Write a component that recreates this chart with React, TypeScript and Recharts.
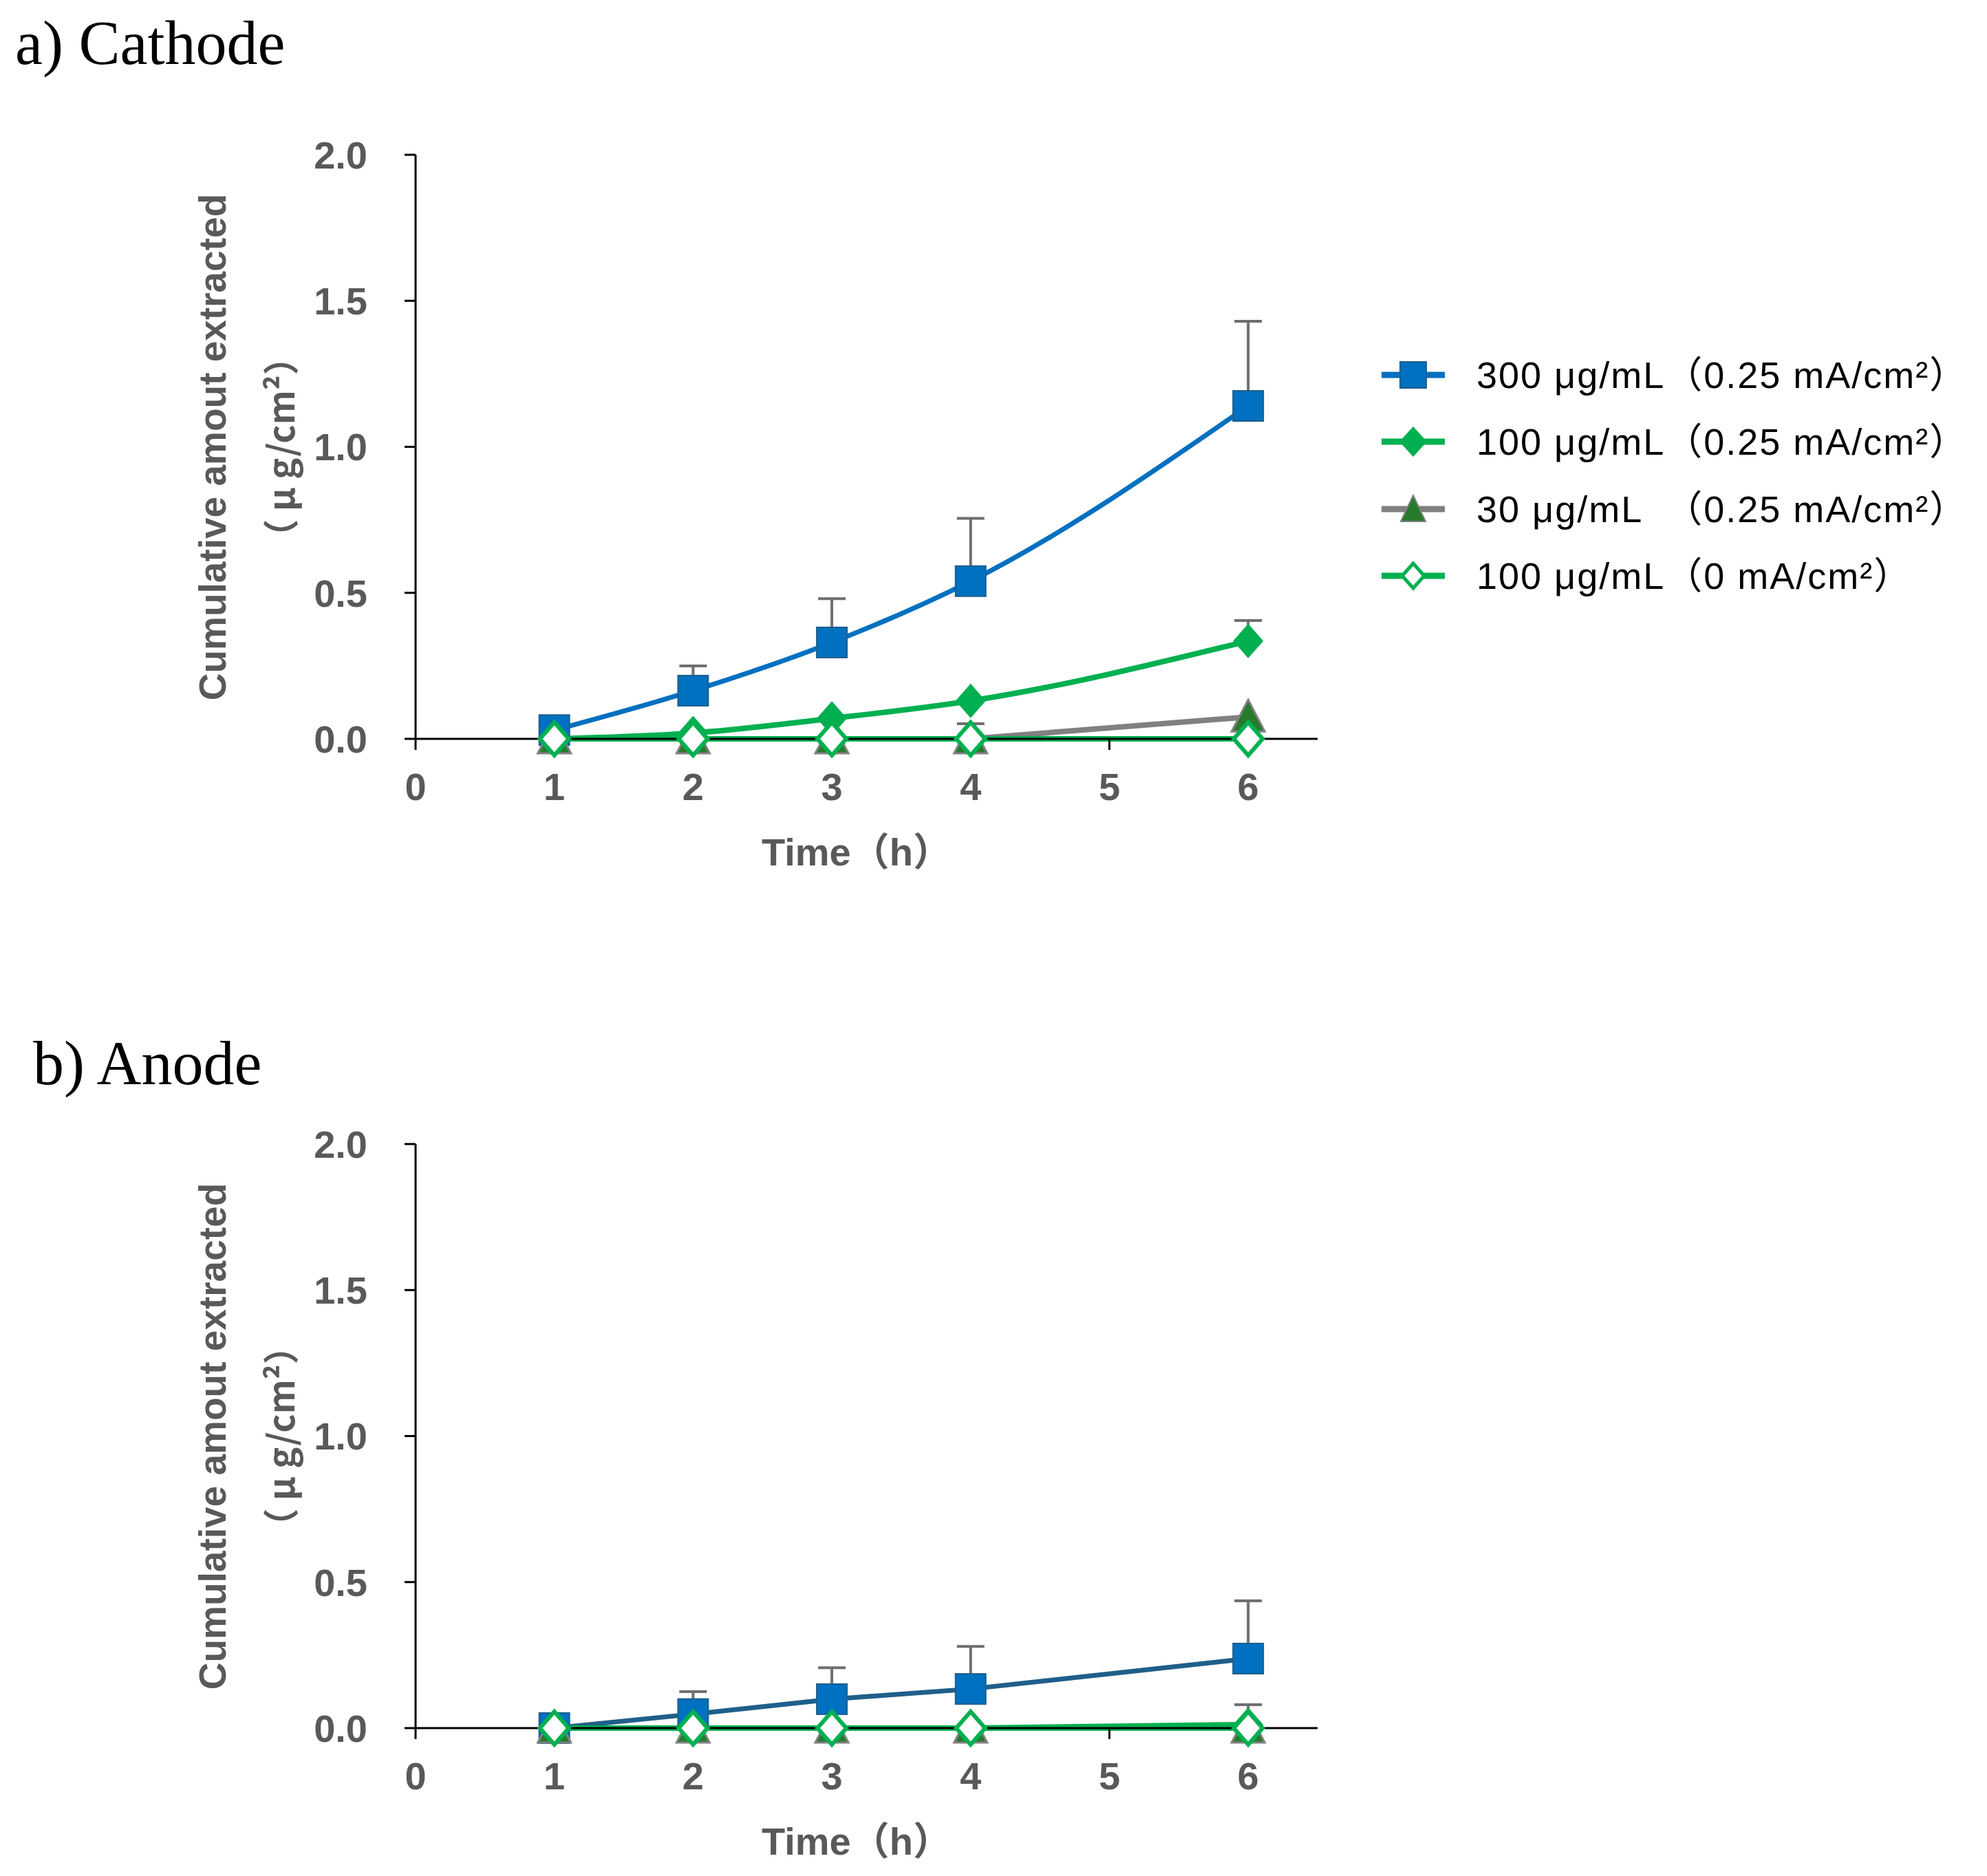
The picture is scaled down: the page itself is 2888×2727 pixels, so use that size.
import React from "react";
import { LineChart, Line, XAxis, YAxis, ErrorBar } from "recharts";

// sampling times (h)
const hours = [1, 2, 3, 4, 6];
const xTicks = [0, 1, 2, 3, 4, 5, 6];
const yTicks = [0, 0.5, 1.0, 1.5, 2.0];

// a) Cathode
const cathode300 = [0.03, 0.165, 0.33, 0.54, 1.14];
const cathode300Err = [0, 0.085, 0.15, 0.215, 0.29];
const cathode100 = [0, 0.02, 0.07, 0.13, 0.335];
const cathode100Err = [0, 0, 0, 0, 0.07];
const cathode30 = [0, 0, 0, 0, 0.075];
const cathode30Err = [0, 0, 0, 0.052, 0];
const cathode100Off = [0, 0, 0, 0, 0];

// b) Anode
const anode300 = [0, 0.048, 0.099, 0.134, 0.238];
const anode300Err = [0, 0.077, 0.108, 0.146, 0.198];
const anode100 = [0, 0, 0, 0, 0.012];
const anode100Err = [0, 0, 0, 0, 0.068];
const anode30 = [0, 0, 0, 0, 0];
const anode100Off = [0, 0, 0, 0, 0];

const seriesNames = [
  "300 μg/mL（0.25 mA/cm²）",
  "100 μg/mL（0.25 mA/cm²）",
  "30 μg/mL  （0.25 mA/cm²）",
  "100 μg/mL（0 mA/cm²）",
];

const BLUE = "#0070C0";
const GREEN = "#00B050";
const GRAY = "#808080";
const DARK_GREEN = "#277A2C";
const ERR = "#6F6F6F";
const AXIS_TEXT = "#595959";
const SANS = "'Liberation Sans', 'Noto Sans CJK JP', sans-serif";

const err = (v: number) => (v > 0 ? [0, v] : undefined);

function buildRows(a: number[], aE: number[], b: number[], bE: number[], c: number[], cE: number[], d: number[]) {
  return hours.map((h, i) => ({
    hour: h,
    s300: a[i],
    s300Err: err(aE[i]),
    s100: b[i],
    s100Err: err(bE[i]),
    s30: c[i],
    s30Err: err(cE[i]),
    s100Off: d[i],
  }));
}

const cathodeRows = buildRows(cathode300, cathode300Err, cathode100, cathode100Err, cathode30, cathode30Err, cathode100Off);
const anodeRows = buildRows(anode300, anode300Err, anode100, anode100Err, anode30, [0, 0, 0, 0, 0], anode100Off);

const Square = (p: any) => (
  <rect key={p.key} x={p.cx - 22} y={p.cy - 22} width={44} height={44} fill={BLUE} stroke="#1F5F8A" strokeWidth={2} />
);
const Diamond = (p: any) => (
  <polygon
    key={p.key}
    points={`${p.cx},${p.cy - 25} ${p.cx + 22},${p.cy} ${p.cx},${p.cy + 25} ${p.cx - 22},${p.cy}`}
    fill={GREEN}
  />
);
const Triangle = (p: any) => (
  <polygon
    key={p.key}
    points={`${p.cx},${p.cy - 25} ${p.cx + 24},${p.cy + 21} ${p.cx - 24},${p.cy + 21}`}
    fill={DARK_GREEN}
    stroke={GRAY}
    strokeWidth={3}
  />
);
const OpenDiamond = (p: any) => (
  <polygon
    key={p.key}
    points={`${p.cx},${p.cy - 24} ${p.cx + 21},${p.cy} ${p.cx},${p.cy + 24} ${p.cx - 21},${p.cy}`}
    fill="#fff"
    stroke={GREEN}
    strokeWidth={6}
  />
);

const legendIcons = [
  { line: BLUE, marker: <rect x={27} y={11} width={38} height={38} fill={BLUE} stroke="#1F5F8A" strokeWidth={2} /> },
  { line: GREEN, marker: <polygon points="46,8 66,30 46,52 26,30" fill={GREEN} /> },
  { line: GRAY, marker: <polygon points="46,10 64,48 28,48" fill={DARK_GREEN} stroke={GRAY} strokeWidth={2} /> },
  { line: GREEN, marker: <polygon points="46,12 62,30 46,48 30,30" fill="#fff" stroke={GREEN} strokeWidth={5} /> },
];

function LegendBox() {
  return (
    <div style={{ position: "absolute", left: 2000, top: 488, display: "flex", flexDirection: "column" }}>
      {seriesNames.map((name, i) => (
        <div key={name} style={{ display: "flex", alignItems: "center", height: 97.5 }}>
          <svg width={92} height={60} style={{ display: "block" }}>
            <line x1={0} x2={92} y1={30} y2={30} stroke={legendIcons[i].line} strokeWidth={9} />
            {legendIcons[i].marker}
          </svg>
          <span
            style={{
              marginLeft: 46,
              fontFamily: SANS,
              fontSize: 54,
              letterSpacing: 2,
              lineHeight: 1,
              color: "#000",
              whiteSpace: "pre",
            }}
          >
            {name}
          </span>
        </div>
      ))}
    </div>
  );
}

function Panel({
  rows,
  top,
  title,
  titleTop,
  titleLeft,
  lineType,
  blueLine,
}: {
  rows: any[];
  top: number;
  title: string;
  titleTop: number;
  titleLeft: number;
  lineType: "monotone" | "linear";
  blueLine: string;
}) {
  const tickStyle = { fill: AXIS_TEXT, fontSize: 56, fontWeight: 700, fontFamily: SANS };
  return (
    <>
      <div
        style={{
          position: "absolute",
          left: titleLeft,
          top: titleTop,
          fontFamily: "'Liberation Serif', serif",
          fontSize: 90,
          lineHeight: 1,
          color: "#000",
          whiteSpace: "nowrap",
        }}
      >
        {title}
      </div>
      <div style={{ position: "absolute", left: 0, top }}>
        <LineChart
          width={2000}
          height={1180}
          data={rows}
          margin={{ top: 217, right: 93, bottom: 14, left: 446 }}
        >
          <XAxis
            dataKey="hour"
            type="number"
            domain={[0, 6.5]}
            ticks={xTicks}
            height={100}
            axisLine={{ stroke: "#000", strokeWidth: 3 }}
            tickLine={{ stroke: "#000", strokeWidth: 3 }}
            tickSize={16}
            tickMargin={33}
            tick={tickStyle}
          />
          <YAxis
            type="number"
            domain={[0, 2]}
            ticks={yTicks}
            width={150}
            tickFormatter={(v: number) => v.toFixed(1)}
            axisLine={{ stroke: "#000", strokeWidth: 3 }}
            tickLine={{ stroke: "#000", strokeWidth: 3 }}
            tickSize={16}
            tickMargin={54}
            tick={tickStyle}
          />
          <Line
            dataKey="s300"
            type={lineType}
            stroke={blueLine}
            strokeWidth={7}
            dot={Square}
            activeDot={false}
            isAnimationActive={false}
          >
            <ErrorBar dataKey="s300Err" direction="y" width={20} stroke={ERR} strokeWidth={4} />
          </Line>
          <Line
            dataKey="s100"
            type={lineType}
            stroke={GREEN}
            strokeWidth={8}
            dot={Diamond}
            activeDot={false}
            isAnimationActive={false}
          >
            <ErrorBar dataKey="s100Err" direction="y" width={20} stroke={ERR} strokeWidth={4} />
          </Line>
          <Line
            dataKey="s30"
            type="linear"
            stroke={GRAY}
            strokeWidth={8}
            dot={Triangle}
            activeDot={false}
            isAnimationActive={false}
          >
            <ErrorBar dataKey="s30Err" direction="y" width={20} stroke={ERR} strokeWidth={4} />
          </Line>
          <Line
            dataKey="s100Off"
            type={lineType}
            stroke={GREEN}
            strokeWidth={8}
            dot={OpenDiamond}
            activeDot={false}
            isAnimationActive={false}
          />
        </LineChart>
      </div>
      {/* axis titles */}
      <div
        style={{
          position: "absolute",
          left: 301,
          top: top + 217 + 425,
          transform: "translate(-50%, -50%) rotate(-90deg)",
          fontFamily: SANS,
          fontSize: 55,
          fontWeight: 700,
          color: AXIS_TEXT,
          whiteSpace: "nowrap",
          lineHeight: 1,
        }}
      >
        Cumulative amout extracted
      </div>
      <div
        style={{
          position: "absolute",
          left: 398,
          top: top + 217 + 425,
          transform: "translate(-50%, -50%) rotate(-90deg)",
          fontFamily: "'Noto Sans CJK JP', sans-serif",
          fontSize: 52,
          fontWeight: 700,
          color: AXIS_TEXT,
          whiteSpace: "pre",
          lineHeight: 1,
        }}
      >
        （ μ g/cm²）
      </div>
      <div
        style={{
          position: "absolute",
          left: 1237,
          top: top + 217 + 849 + 165,
          transform: "translate(-50%, -50%)",
          fontFamily: SANS,
          fontSize: 56,
          fontWeight: 700,
          color: AXIS_TEXT,
          whiteSpace: "nowrap",
          lineHeight: 1,
        }}
      >
        Time（h）
      </div>
    </>
  );
}

export default function App() {
  return (
    <div style={{ position: "relative", width: 2872, height: 2711, background: "#fff", overflow: "hidden" }}>
      <Panel
        rows={cathodeRows}
        top={0}
        title="a) Cathode"
        titleTop={10}
        titleLeft={14}
        lineType="monotone"
        blueLine={BLUE}
      />
      <LegendBox />
      <Panel
        rows={anodeRows}
        top={1438}
        title="b) Anode"
        titleTop={1493}
        titleLeft={40}
        lineType="linear"
        blueLine="#1F5F8A"
      />
    </div>
  );
}
